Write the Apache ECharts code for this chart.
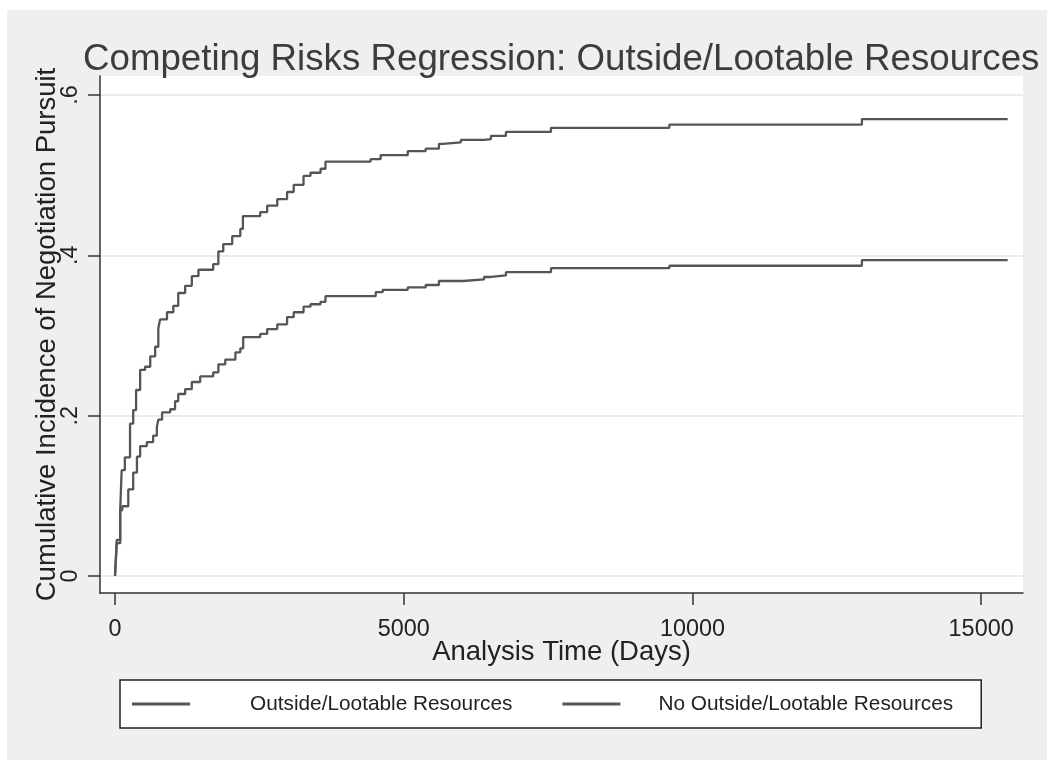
<!DOCTYPE html>
<html><head><meta charset="utf-8">
<script src="https://cdn.jsdelivr.net/npm/echarts@6/dist/echarts.min.js"></script>
<style>html,body{margin:0;padding:0;background:#fff}#c{width:1047px;height:760px}</style>
</head><body><div id="c"></div>
<script>
const titleText = 'Competing Risks Regression: Outside/Lootable Resources';
const xAxisTitle = 'Analysis Time (Days)';
const yAxisTitle = 'Cumulative Incidence of Negotiation Pursuit';
const seriesNames = ['Outside/Lootable Resources', 'No Outside/Lootable Resources'];
const xTicks = [0, 5000, 10000, 15000];
const yTicks = [0, 0.2, 0.4, 0.6];

const upperDays = [0,30,90,115,170,260,315,365,435,520,610,695,750,780,900,1010,1095,1215,1330,1445,1700,1790,1875,2030,2170,2215,2515,2635,2810,2980,3095,3265,3385,3560,3645,4425,4600,5070,5380,5610,5680,5990,6390,6510,6770,7550,9600,12935,15460];
const upperCIF  = [0,0.041,0.082,0.132,0.148,0.19,0.207,0.232,0.257,0.261,0.274,0.286,0.309,0.320,0.329,0.337,0.353,0.362,0.374,0.382,0.389,0.405,0.414,0.424,0.433,0.449,0.454,0.462,0.470,0.479,0.488,0.499,0.503,0.508,0.517,0.520,0.525,0.530,0.533,0.539,0.541,0.544,0.545,0.549,0.554,0.559,0.563,0.570,0.570];

const lowerDays = [0,30,90,125,230,315,380,435,550,660,725,750,815,955,1040,1095,1215,1330,1475,1700,1790,1910,2085,2170,2220,2515,2635,2810,2980,3095,3265,3385,3560,3645,4515,4635,5070,5380,5610,6025,6390,6510,6770,7550,9600,12935,15460];
const lowerCIF  = [0,0.045,0.082,0.087,0.108,0.129,0.149,0.162,0.167,0.175,0.186,0.195,0.204,0.208,0.218,0.227,0.233,0.242,0.249,0.254,0.264,0.270,0.279,0.284,0.298,0.302,0.308,0.314,0.323,0.329,0.336,0.339,0.342,0.349,0.354,0.357,0.360,0.363,0.368,0.370,0.373,0.375,0.379,0.384,0.387,0.394,0.394];

const FONT = '"Liberation Sans", Arial, sans-serif';
const zip = (xs, ys) => xs.map((x, i) => [x, ys[i]]);
const LINE = '#555555';

const chart = echarts.init(document.getElementById('c'), null, {renderer: 'canvas'});
chart.setOption({
  animation: false,
  backgroundColor: '#efefef',
  graphic: [
    {type: 'rect', left: 0, top: 0, shape: {width: 1047, height: 10}, style: {fill: '#ffffff'}},
    {type: 'rect', left: 0, top: 0, shape: {width: 7, height: 760}, style: {fill: '#ffffff'}}
  ],
  title: {
    text: titleText, left: 83, top: 41, padding: 0,
    textStyle: {fontFamily: FONT, fontSize: 36.7, fontWeight: 'normal', color: '#3c3c3c'}
  },
  grid: {left: 100, top: 76, right: 24, bottom: 167, show: true, backgroundColor: '#ffffff', borderWidth: 0},
  xAxis: {
    type: 'value', min: -260, max: 15725,
    name: xAxisTitle, nameLocation: 'middle', nameGap: 45, nameMoveOverlap: false,
    nameTextStyle: {fontFamily: FONT, fontSize: 27.5, color: '#222'},
    axisLine: {show: true, onZero: false, lineStyle: {color: '#333', width: 1.5}},
    axisTick: {show: true, length: 12, customValues: xTicks, lineStyle: {color: '#333', width: 1.5}},
    axisLabel: {customValues: xTicks, margin: 25, fontFamily: FONT, fontSize: 23.4, color: '#222', formatter: v => String(v)},
    splitLine: {show: false}
  },
  yAxis: {
    type: 'value', min: -0.0212, max: 0.6237,
    name: yAxisTitle, nameLocation: 'middle', nameGap: 39, nameMoveOverlap: false,
    nameTextStyle: {fontFamily: FONT, fontSize: 27.5, color: '#222'},
    axisLine: {show: true, onZero: false, lineStyle: {color: '#333', width: 1.5}},
    axisTick: {show: true, length: 12, customValues: yTicks, lineStyle: {color: '#333', width: 1.5}},
    axisLabel: {customValues: yTicks, rotate: 90, margin: 18, fontFamily: FONT, fontSize: 23.4, color: '#222',
      formatter: v => (Math.abs(v) < 1e-9 ? '0' : String(+v.toFixed(1)).replace(/^0\./, '.'))},
    splitLine: {show: true, lineStyle: {color: '#ebebeb', width: 2}}
  },
  legend: {
    left: 120, top: 680, orient: 'horizontal',
    backgroundColor: '#ffffff', borderColor: '#222', borderWidth: 1.5, borderRadius: 0,
    padding: [12, 28, 12, 12], itemGap: 50, itemWidth: 58, itemHeight: 3, icon: 'rect',
    textStyle: {fontFamily: FONT, fontSize: 20.8, color: '#222', lineHeight: 24},
    data: [
      {name: seriesNames[0], textStyle: {padding: [0, 0, 0, 55]}},
      {name: seriesNames[1], textStyle: {padding: [0, 0, 0, 33]}}
    ]
  },
  series: [
    {name: seriesNames[0], type: 'line', step: 'end', showSymbol: false, data: zip(upperDays, upperCIF),
      lineStyle: {color: LINE, width: 2.3}, itemStyle: {color: LINE}},
    {name: seriesNames[1], type: 'line', step: 'end', showSymbol: false, data: zip(lowerDays, lowerCIF),
      lineStyle: {color: LINE, width: 2.3}, itemStyle: {color: LINE}}
  ]
});
</script></body></html>
